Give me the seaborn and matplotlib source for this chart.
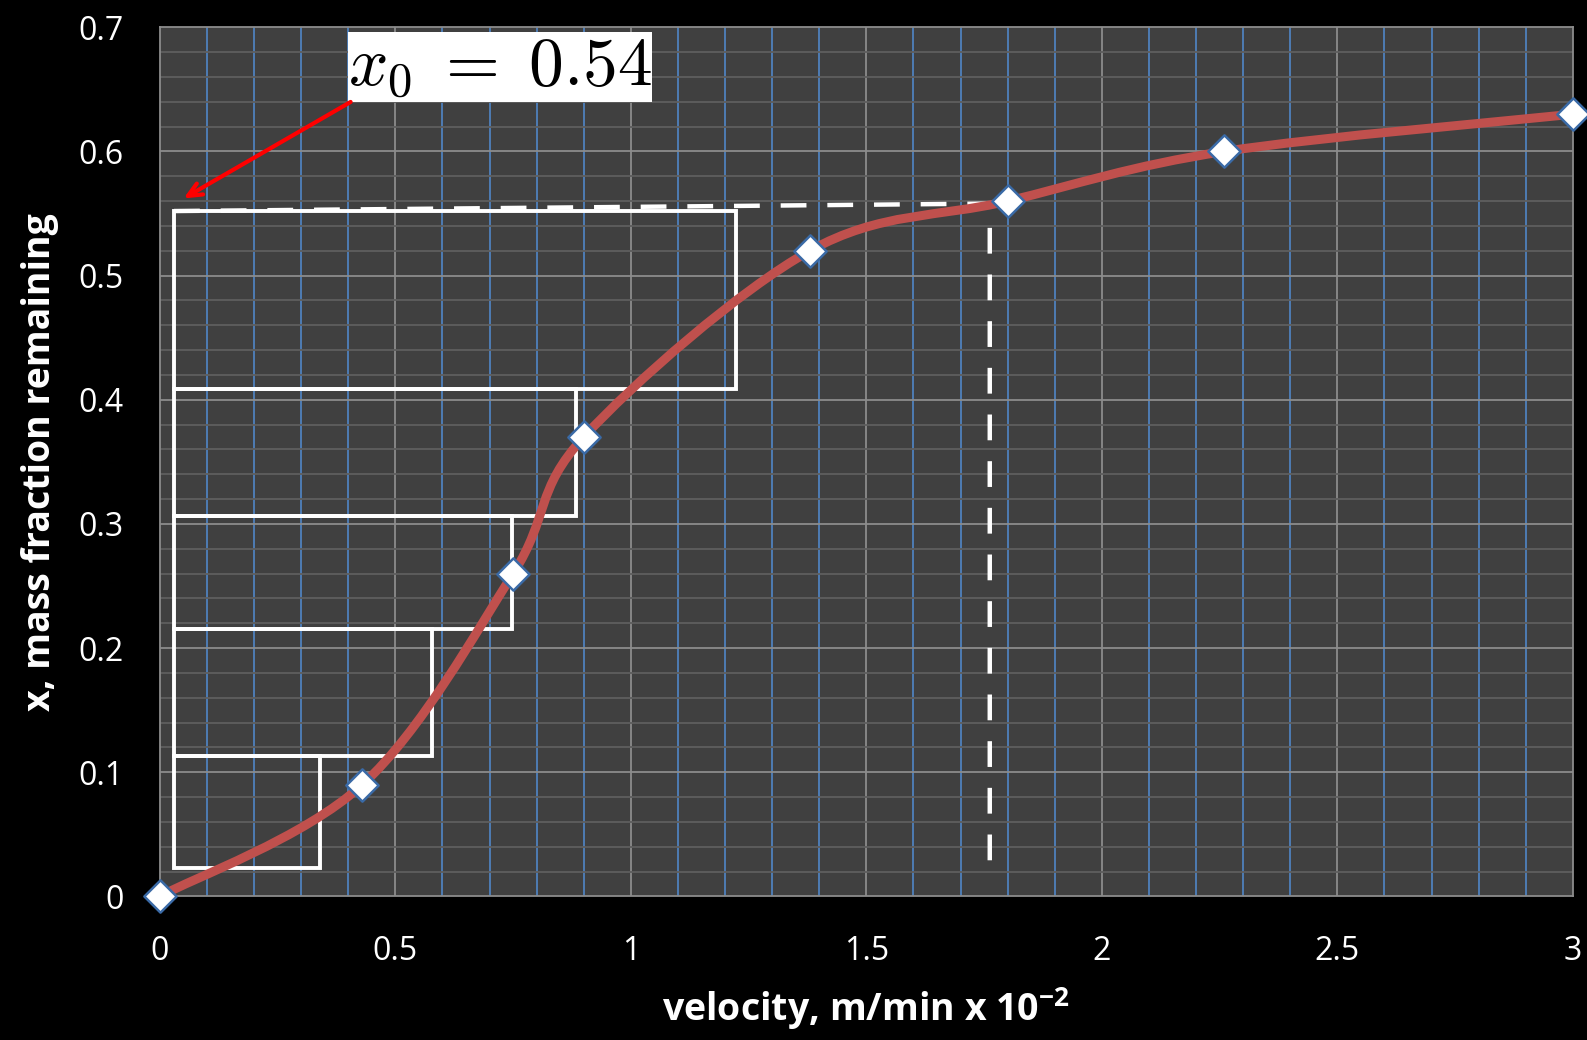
import numpy as np
import matplotlib
matplotlib.use("Agg")
import matplotlib.pyplot as plt
from matplotlib.path import Path
from matplotlib.patches import PathPatch
import seaborn as sns

# measured points (velocity, mass fraction remaining)
velocity = [0.0, 0.43, 0.75, 0.90, 1.38, 1.80, 2.26, 3.0]
fraction = [0.0, 0.09, 0.26, 0.37, 0.52, 0.56, 0.60, 0.63]

# step boxes under the curve
box_left = 0.03
box_right = [0.34, 0.578, 0.748, 0.883, 1.223]
box_bottom = [0.023, 0.113, 0.215, 0.306, 0.409]
box_top = [0.113, 0.215, 0.306, 0.409, 0.552]

# dashed guide lines
guide_x = [0.03, 1.762, 1.762]
guide_y = [0.552, 0.558, 0.023]

x_ticks = [0, 0.5, 1, 1.5, 2, 2.5, 3]
x_ticklabels = ["0", "0.5", "1", "1.5", "2", "2.5", "3"]
y_ticks = [0, 0.1, 0.2, 0.3, 0.4, 0.5, 0.6, 0.7]
y_ticklabels = ["0", "0.1", "0.2", "0.3", "0.4", "0.5", "0.6", "0.7"]

sns.set_style("dark")
plt.rcParams['font.family'] = ['Open Sans', 'DejaVu Sans']
plt.rcParams['mathtext.fontset'] = 'custom'
plt.rcParams['mathtext.rm'] = 'Open Sans:bold'

W, H = 1568, 1028  # layout measured on the shown picture
fig = plt.figure(figsize=(15.87, 10.4), dpi=100, facecolor='black')
ax = fig.add_axes([158 / W, 1 - 886 / H, (1554 - 158) / W, (886 - 27) / H])
ax.set_facecolor('#404040')

# grid: blue minor verticals, gray horizontals
for v in np.arange(0.1, 3.0, 0.1):
    if abs(v * 2 - round(v * 2)) > 1e-6:
        ax.axvline(v, color='#4f81bd', lw=1.3, zorder=0)
for v in np.arange(0.5, 3.0, 0.5):
    ax.axvline(v, color='#8c8c8c', lw=1.3, zorder=0)
for h in np.arange(0.02, 0.7, 0.02):
    if abs(h * 10 - round(h * 10)) > 1e-6:
        ax.axhline(h, color='#5e5e5e', lw=1.3, zorder=0)
for h in np.arange(0.1, 0.7, 0.1):
    ax.axhline(h, color='#8c8c8c', lw=1.3, zorder=0)

# boxes
ax.barh(box_bottom, np.array(box_right) - box_left,
        height=np.array(box_top) - np.array(box_bottom),
        left=box_left, align='edge', fill=False, edgecolor='white', lw=2.8, zorder=2)

# dashed guides
ax.plot(guide_x, guide_y, color='white', lw=3.2, dashes=(5.8, 4.7), zorder=3)

# smooth curve (Excel-style bezier through points)
pts = np.column_stack([velocity, fraction])
ext = np.vstack([pts[0], pts, pts[-1]])
verts = [tuple(pts[0])]
codes = [Path.MOVETO]
for i in range(len(pts) - 1):
    p0, p1, p2, p3 = ext[i], ext[i + 1], ext[i + 2], ext[i + 3]
    c1 = p1 + (p2 - p0) / 6
    c2 = p2 - (p3 - p1) / 6
    verts += [tuple(c1), tuple(c2), tuple(p2)]
    codes += [Path.CURVE4] * 3
ax.add_patch(PathPatch(Path(verts, codes), fill=False, edgecolor='#c0504d',
                       lw=6.5, capstyle='round', zorder=4))

sns.scatterplot(x=velocity, y=fraction, marker='D', s=270, color='white',
                edgecolor='#3a6aa6', linewidth=1.8, zorder=5, ax=ax, clip_on=False)

# annotation
ax.text(0.722, 0.668, r'$x_0\;=\;0.54$', fontsize=50, color='black', ha='center', va='center',
        math_fontfamily='cm',
        bbox=dict(facecolor='white', edgecolor='none', pad=0), zorder=6)
ax.annotate('', xy=(0.045, 0.561), xytext=(0.41, 0.641),
            arrowprops=dict(arrowstyle='->,head_length=1.0,head_width=0.45', color='#ff0000', lw=3.0),
            zorder=6)

ax.set_xlim(0, 3)
ax.set_ylim(0, 0.7)
ax.set_xticks(x_ticks)
ax.set_xticklabels(x_ticklabels)
ax.set_yticks(y_ticks)
ax.set_yticklabels(y_ticklabels)
ax.tick_params(colors='white', labelsize=23, length=0)
ax.tick_params(axis='x', pad=28)
ax.tick_params(axis='y', pad=26)
ax.grid(False)
for s in ax.spines.values():
    s.set_color('#8c8c8c')
    s.set_linewidth(1.3)

ax.set_xlabel(r'velocity, m/min x 10$^{\mathrm{-2}}$', color='white', fontsize=27, fontweight='bold', labelpad=12)
ax.set_ylabel('x, mass fraction remaining', color='white', fontsize=27, fontweight='bold', labelpad=14)

fig.savefig('out.png', dpi=100, facecolor='black')
